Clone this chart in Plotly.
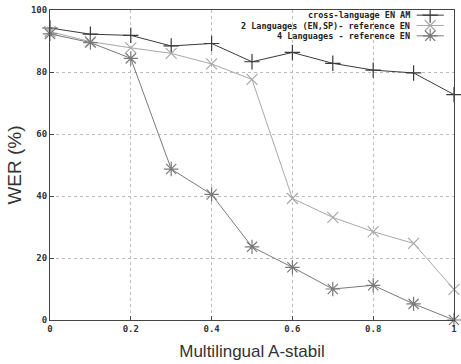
import plotly.graph_objects as go

x_vals = [0, 0.1, 0.2, 0.3, 0.4, 0.5, 0.6, 0.7, 0.8, 0.9, 1.0]
cross_en_am = [94.2, 92.2, 91.8, 88.4, 89.2, 83.3, 86.3, 82.8, 80.6, 79.7, 72.7]
two_lang = [93.0, 89.8, 87.8, 86.0, 82.6, 77.6, 39.2, 33.1, 28.5, 24.7, 9.9]
four_lang = [92.3, 89.5, 84.4, 48.7, 40.5, 23.6, 17.0, 10.0, 11.2, 5.2, 0.0]

series_names = ["cross-language EN AM", "2 Languages (EN,SP)- reference EN", "4 Languages - reference EN"]
x_ticks = [0, 0.2, 0.4, 0.6, 0.8, 1]
x_tick_text = ["0", "0.2", "0.4", "0.6", "0.8", "1"]
y_ticks = [0, 20, 40, 60, 80, 100]

series = [cross_en_am, two_lang, four_lang]
colors = ["#3a3a3a", "#a8a8a8", "#7a7a7a"]
symbols = ["cross-thin-open", "x-thin-open", "asterisk-open"]
sizes = [11, 11, 12]
legend_rows = [2.5, 1.5, 0.5]

mono = "DejaVu Sans Mono"

fig = go.Figure()
for vals, name, col, sym, sz in zip(series, series_names, colors, symbols, sizes):
    fig.add_trace(go.Scatter(x=x_vals, y=vals, name=name, mode="lines+markers",
                             line=dict(color=col, width=1), cliponaxis=False,
                             marker=dict(symbol=sym, size=sz, color=col, line=dict(color=col, width=1.2))))

# custom legend (text to the left of key, like gnuplot)
for row, name, col, sym, sz in zip(legend_rows, series_names, colors, symbols, sizes):
    fig.add_trace(go.Scatter(x=[0, 1], y=[row, row], mode="lines", xaxis="x2", yaxis="y2",
                             line=dict(color=col, width=1), showlegend=False, hoverinfo="skip"))
    fig.add_trace(go.Scatter(x=[0.5], y=[row], mode="markers", xaxis="x2", yaxis="y2",
                             marker=dict(symbol=sym, size=sz, color=col, line=dict(color=col, width=1.2)),
                             showlegend=False, hoverinfo="skip"))
    fig.add_annotation(text=name, xref="paper", yref="y2", x=0.897, y=row, xanchor="right",
                       yanchor="middle", showarrow=False,
                       font=dict(family=mono, size=8.5, color="#222", weight="bold"))

fig.update_layout(
    width=461, height=364,
    margin=dict(l=50, r=4, t=10, b=44),
    paper_bgcolor="white", plot_bgcolor="white",
    showlegend=False,
    xaxis=dict(range=[0, 1], tickvals=x_ticks, ticktext=x_tick_text,
               showgrid=True, gridcolor="#bbbbbb", griddash="dot", gridwidth=1,
               showline=True, linecolor="#444", linewidth=1, mirror=True,
               ticks="inside", ticklen=4, tickcolor="#444",
               tickfont=dict(family=mono, size=9, color="#333", weight="bold"),
               zeroline=False,
               title=dict(text="Multilingual A-stabil", font=dict(family="Liberation Sans", size=17, color="#333"), standoff=12)),
    yaxis=dict(range=[0, 100], tickvals=y_ticks,
               showgrid=True, gridcolor="#bbbbbb", griddash="dot", gridwidth=1,
               showline=True, linecolor="#444", linewidth=1, mirror=True,
               ticks="inside", ticklen=4, tickcolor="#444",
               tickfont=dict(family=mono, size=9, color="#333", weight="bold"),
               zeroline=False,
               title=dict(text="WER (%)", font=dict(family="Liberation Sans", size=19, color="#333"), standoff=4)),
    xaxis2=dict(domain=[0.907, 0.975], range=[0, 1], visible=False, anchor="y2"),
    yaxis2=dict(domain=[0.9, 1.0], range=[0, 3], visible=False, anchor="x2"),
)

fig.write_html("out.html", config={"displayModeBar": False},
               post_script="document.body.style.margin='0px';")
